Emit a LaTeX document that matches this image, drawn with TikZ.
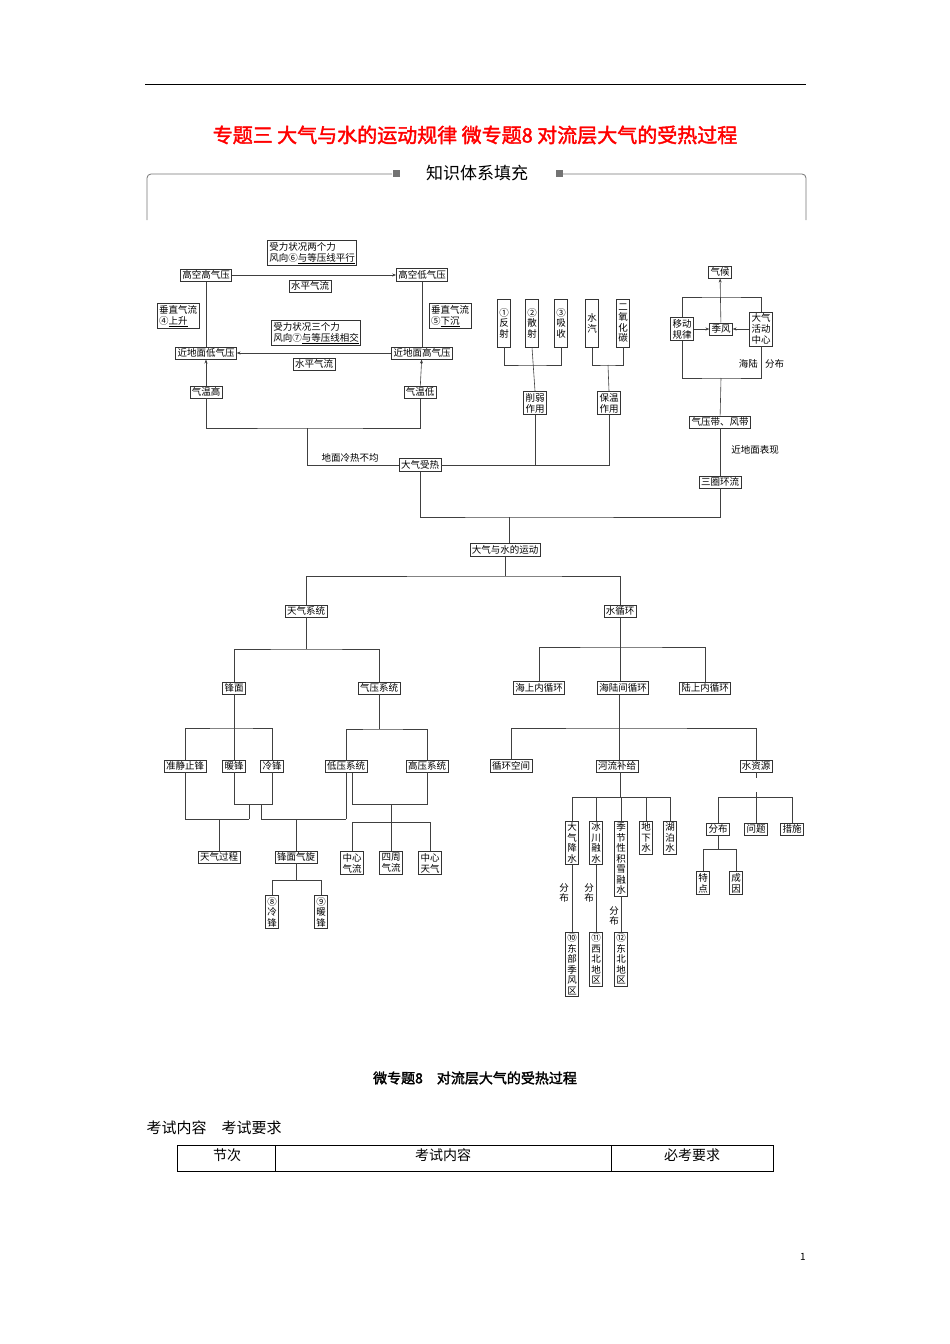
\documentclass[tikz,border=0pt]{standalone}
\usepackage{fontspec}
\setmainfont{Noto Sans CJK SC}[AutoFakeBold=2]
\usetikzlibrary{arrows.meta}
\newcommand{\bxf}{\fontsize{9.5}{11}\selectfont}
\newcommand{\ul}[1]{\underline{#1}}
\begin{document}
\begin{tikzpicture}[x=1pt,y=-1pt,
  bx/.style={draw=black!80,line width=0.6pt,inner sep=1.8pt,font=\bxf,align=center,fill=white},
  vb/.style={bx,inner sep=1.5pt,font=\fontsize{9.5}{10.5}\selectfont},
  ln/.style={draw=black!75,line width=0.6pt},
  ar/.style={ln,-{Stealth[length=4pt,width=3pt]}},
  lb/.style={font=\bxf,inner sep=1pt}]
\useasboundingbox (0,0) rectangle (950,1344);
% header
\draw[line width=0.8pt] (145,84) -- (806,84);
\node[text=red,font=\fontsize{20}{22}\selectfont\bfseries] (title) at (475,135) {专题三\ 大气与水的运动规律\ 微专题8\ 对流层大气的受热过程};
\node[font=\fontsize{17}{19}\selectfont] (zs) at (477,173) {知识体系填充};
\draw[black!55,line width=0.8pt,rounded corners=4pt] (392,174) -- (147,174) -- (147,220);
\draw[black!55,line width=0.8pt,rounded corners=4pt] (562,174) -- (806,174) -- (806,220);
\fill[black!55] (393,170) rectangle (400,177);
\fill[black!55] (556,170) rectangle (563,177);
% upper-left cycle
\node[bx,align=left] (f2) at (312,253) {受力状况两个力\\风向⑥\ul{与等压线平行}};
\node[bx] (gkg) at (206,275) {高空高气压};
\node[bx] (gkd) at (422,275) {高空低气压};
\node[bx] (sp1) at (310,286) {水平气流};
\node[bx,align=left] (cz1) at (178,316) {垂直气流\\④\ul{上升}};
\node[bx,align=left] (cz2) at (450,316) {垂直气流\\⑤\ul{下沉}};
\node[bx,align=left] (f3) at (316,333) {受力状况三个力\\风向⑦\ul{与等压线相交}};
\node[bx] (jdd) at (206,353) {近地面低气压};
\node[bx] (jdg) at (422,353) {近地面高气压};
\node[bx] (sp2) at (314,364) {水平气流};
\node[bx] (qwg) at (206,392) {气温高};
\node[bx] (qwd) at (420,392) {气温低};
\draw[ar] (gkg) -- (gkd);
\draw[ar] (jdg) -- (jdd);
\draw[ln] (gkg) -- (jdd);
\draw[ln] (gkd) -- (jdg);
\draw[ar] (qwg) -- (jdd);
\draw[ar] (qwd) -- (jdg);
\node[bx] (dqrs) at (420,465) {大气受热};
\coordinate (c1) at (307,428);
\draw[ln] (qwg.south) |- (c1) -| (qwd.south);
\draw[ln] (c1) |- (dqrs.west);
\node[lb] (dmlr) at (350,458) {地面冷热不均};
% radiation boxes
\node[vb,minimum height=48pt] (r1) at (504,323) {①\\反\\射};
\node[vb,minimum height=48pt] (r2) at (532,323) {②\\散\\射};
\node[vb,minimum height=48pt] (r3) at (561,323) {③\\吸\\收};
\node[vb,minimum height=48pt,anchor=north] (sq) at (592,299) {水\\汽};
\node[vb,minimum height=48pt] (co2) at (623,323) {二\\氧\\化\\碳};
\node[bx] (xr) at (535,403) {削弱\\作用};
\node[bx] (bw) at (609,403) {保温\\作用};
\coordinate (c2) at (532,365);
\draw[ln] (r1.south) |- (c2) -| (r3.south);
\draw[ln] (r2.south) -- (xr.north);
\coordinate (c3) at (608,365);
\draw[ln] (sq.south) |- (c3) -| (co2.south);
\draw[ln] (c3) -- (bw.north);
\draw[ln] (dqrs.east) -| (bw.south);
\draw[ln] (xr.south) -- (xr.south |- dqrs.east);
% right cluster
\node[bx] (qh) at (720,272) {气候};
\node[bx] (ydgl) at (682,329) {移动\\规律};
\node[bx] (jf) at (721,329) {季风};
\node[bx] (hdzx) at (761,329) {大气\\活动\\中心};
\draw[ar] (ydgl) -- (jf);
\draw[ar] (hdzx) -- (jf);
\draw[ar] (jf) -- (qh);
\coordinate (c4) at (721,297);
\draw[ln] (ydgl.north) |- (c4) -| (hdzx.north);
\coordinate (c5) at (721,378);
\draw[ln] (ydgl.south) |- (c5) -| (hdzx.south);
\node[lb,anchor=east] (hl) at (759,364) {海陆};
\node[lb,anchor=west] (fb) at (764,364) {分布};
\node[bx] (qyd) at (720,422) {气压带、风带};
\node[bx] (sqhl) at (720,482) {三圈环流};
\draw[ln] (c5) -- (qyd);
\draw[ln] (qyd) -- (sqhl);
\node[lb] (jdmbx) at (755,450) {近地面表现};
% root
\node[bx] (root) at (505,550) {大气与水的运动};
\coordinate (c6) at (509,517);
\draw[ln] (dqrs.south) |- (c6) -| (sqhl.south);
\draw[ln] (c6) -- (c6 |- root.north);
% weather
\node[bx] (tqxt) at (306,611) {天气系统};
\node[bx] (sxh) at (620,611) {水循环};
\coordinate (c7) at (505,576);
\draw[ln] (root.south) -- (c7);
\draw[ln] (tqxt.north) |- (c7) -| (sxh.north);
\node[bx] (fm) at (234,688) {锋面};
\node[bx] (qyxt) at (379,688) {气压系统};
\coordinate (c8) at (306,649);
\draw[ln] (tqxt.south) -- (c8);
\draw[ln] (fm.north) |- (c8) -| (qyxt.north);
\node[bx] (zjz) at (185,766) {准静止锋};
\node[bx] (nf) at (234,766) {暖锋};
\node[bx] (lf) at (272,766) {冷锋};
\coordinate (c9) at (234,728);
\draw[ln] (fm.south) -- (nf.north);
\draw[ln] (zjz.north) |- (c9) -| (lf.north);
\node[bx] (dyxt) at (346,766) {低压系统};
\node[bx] (gyxt) at (427,766) {高压系统};
\coordinate (c10) at (379,729);
\draw[ln] (qyxt.south) -- (c10);
\draw[ln] (dyxt.north) |- (c10) -| (gyxt.north);
\node[bx] (tqgc) at (219,857) {天气过程};
\node[bx] (fmqx) at (296,857) {锋面气旋};
\coordinate (c11) at (249,804);
\coordinate (c12) at (249,819);
\coordinate (c13) at (261,804);
\coordinate (c14) at (261,819);
\draw[ln] (nf.south) |- (c11) -| (lf.south);
\draw[ln] (c11) -- (c12);
\draw[ln] (zjz.south) |- (c12);
\draw[ln] (tqgc.north) -- (tqgc.north |- c12);
\draw[ln] (c13) -- (c14) -- (c14 -| dyxt.south) coordinate (c15);
\draw[ln] (c15) -- (dyxt.south -| c15);
\draw[ln] (fmqx.north) -- (fmqx.north |- c14);
\coordinate (c16) at (352,804);
\coordinate (c17) at (391,804);
\coordinate (c18) at (391,822);
\draw[ln] (c16 |- dyxt.south) -- (c16) -| (gyxt.south);
\draw[ln] (c17) -- (c18);
\node[bx] (zxql) at (352,863) {中心\\气流};
\node[bx] (szql) at (391,863) {四周\\气流};
\node[bx] (zxtq) at (430,863) {中心\\天气};
\draw[ln] (zxql.north) |- (c18) -| (zxtq.north);
\draw[ln] (c18) -- (szql.north);
\node[vb] (lf8) at (272,912) {⑧\\冷\\锋};
\node[vb] (nf9) at (321,912) {⑨\\暖\\锋};
\coordinate (c19) at (296,880);
\draw[ln] (fmqx.south) -- (c19);
\draw[ln] (lf8.north) |- (c19) -| (nf9.north);
% water cycle
\node[bx] (hsn) at (539,688) {海上内循环};
\node[bx] (hlj) at (623,688) {海陆间循环};
\node[bx] (lsn) at (705,688) {陆上内循环};
\coordinate (c20) at (620,647);
\draw[ln] (sxh.south) -- (c20 -| sxh.south);
\draw[ln] (hsn.north) |- (c20) -| (lsn.north);
\draw[ln] (c20 -| sxh.south) -- (hlj.north -| sxh.south);
\node[bx] (xhkj) at (511,766) {循环空间};
\node[bx] (hlbj) at (617,766) {河流补给};
\node[bx] (szy) at (756,766) {水资源};
\coordinate (c21) at (619,728);
\draw[ln] (hlj.south -| c21) -- (c21);
\draw[ln] (xhkj.north) |- (c21) -| (szy.north);
\draw[ln] (c21) -- (c21 |- hlbj.north);
\node[vb,anchor=north] (dqjs) at (572,821) {大\\气\\降\\水};
\node[vb,anchor=north] (bcrs) at (596,821) {冰\\川\\融\\水};
\node[vb,anchor=north] (jjx) at (621,821) {季\\节\\性\\积\\雪\\融\\水};
\node[vb,anchor=north] (dxs) at (646,821) {地\\下\\水};
\node[vb,anchor=north] (hbs) at (670,821) {湖\\泊\\水};
\coordinate (c22) at (620,797);
\draw[ln] (hlbj.south -| c22) -- (c22);
\draw[ln] (dqjs.north) |- (c22) -| (hbs.north);
\draw[ln] (bcrs.north) -- (bcrs.north |- c22);
\draw[ln] (jjx.north) -- (jjx.north |- c22);
\draw[ln] (dxs.north) -- (dxs.north |- c22);
\node[vb,anchor=north] (d10) at (572,932) {⑩\\东\\部\\季\\风\\区};
\node[vb,anchor=north] (d11) at (596,932) {⑪\\西\\北\\地\\区};
\node[vb,anchor=north] (d12) at (621,932) {⑫\\东\\北\\地\\区};
\draw[ln] (dqjs) -- (d10);
\draw[ln] (bcrs) -- (d11);
\draw[ln] (jjx) -- (d12);
\node[lb,align=center,font=\fontsize{9.5}{10.5}\selectfont] (fb1) at (564,893) {分\\布};
\node[lb,align=center,font=\fontsize{9.5}{10.5}\selectfont] (fb2) at (589,893) {分\\布};
\node[lb,align=center,font=\fontsize{9.5}{10.5}\selectfont] (fb3) at (614,916) {分\\布};
\node[bx] (fbb) at (718,829) {分布};
\node[bx] (wt) at (756,829) {问题};
\node[bx] (cs) at (792,829) {措施};
\coordinate (c23) at (756,797);
\draw[ln] (szy.south) -- (756,778);
\draw[ln] (756,792) -- (c23);
\draw[ln] (fbb.north) |- (c23) -| (cs.north);
\draw[ln] (c23) -- (wt.north);
\node[bx] (td) at (703,883) {特\\点};
\node[bx] (cy) at (736,883) {成\\因};
\coordinate (c24) at (718,849);
\draw[ln] (fbb.south) -- (c24);
\draw[ln] (td.north) |- (c24) -| (cy.north);
% bottom
\node[font=\fontsize{14}{16}\selectfont\bfseries] (sub) at (475,1078) {微专题8\quad 对流层大气的受热过程};
\node[anchor=west,font=\fontsize{15}{17}\selectfont] (ks) at (143,1128) {考试内容\quad 考试要求};
\draw[line width=0.7pt] (177,1145) rectangle (773,1171);
\draw[line width=0.7pt] (275,1145) -- (275,1171);
\draw[line width=0.7pt] (611,1145) -- (611,1171);
\node[font=\fontsize{14}{16}\selectfont] (t1) at (227,1155) {节次};
\node[font=\fontsize{14}{16}\selectfont] (t2) at (443,1155) {考试内容};
\node[font=\fontsize{14}{16}\selectfont] (t3) at (692,1155) {必考要求};
\node[font=\fontsize{10}{12}\selectfont] (pg) at (803,1257) {1};
\end{tikzpicture}
\end{document}
